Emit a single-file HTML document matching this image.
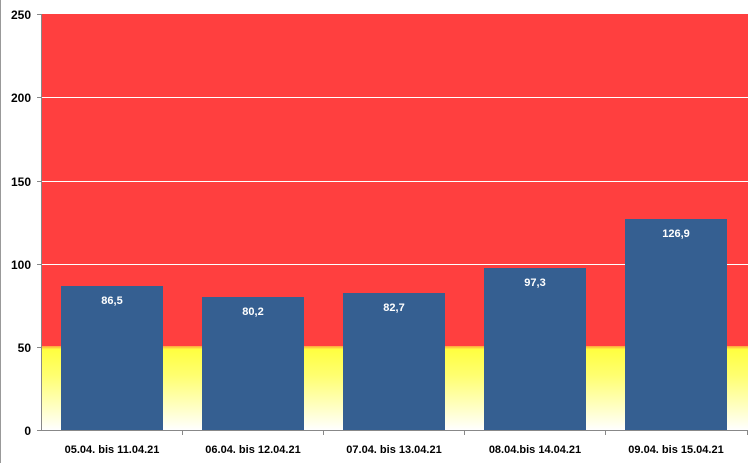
<!DOCTYPE html><html><head><style>body{margin:0;background:#fff}svg{display:block}text{font-family:"Liberation Sans",sans-serif;font-weight:bold}</style></head><body>
<svg width="754" height="463" xmlns="http://www.w3.org/2000/svg">
<defs><linearGradient id="y" x1="0" y1="0" x2="0" y2="1"><stop offset="0" stop-color="#ffa040"/><stop offset="0.04" stop-color="#ffff40"/><stop offset="0.35" stop-color="#ffff70"/><stop offset="1" stop-color="#ffffff"/></linearGradient></defs>
<rect x="0" y="0" width="1" height="463" fill="#999"/>
<rect x="42" y="14" width="706" height="333" fill="#ff3f3f"/>
<rect x="42" y="346" width="706" height="84" fill="url(#y)"/>
<g stroke="#fff" stroke-width="1"><line x1="42" x2="748" y1="264.5" y2="264.5"/><line x1="42" x2="748" y1="181.5" y2="181.5"/><line x1="42" x2="748" y1="97.5" y2="97.5"/></g>
<g stroke="#888" stroke-width="1"><line x1="41.5" y1="14" x2="41.5" y2="430"/><line x1="41" y1="430.5" x2="748" y2="430.5"/>
<line x1="37" x2="42" y1="14.5" y2="14.5"/><line x1="37" x2="42" y1="97.5" y2="97.5"/><line x1="37" x2="42" y1="181.5" y2="181.5"/><line x1="37" x2="42" y1="264.5" y2="264.5"/><line x1="37" x2="42" y1="347.5" y2="347.5"/><line x1="37" x2="42" y1="430.5" y2="430.5"/>
<line x1="182.5" x2="182.5" y1="430" y2="435"/><line x1="323.5" x2="323.5" y1="430" y2="435"/><line x1="464.5" x2="464.5" y1="430" y2="435"/><line x1="605.5" x2="605.5" y1="430" y2="435"/><line x1="747.5" x2="747.5" y1="430" y2="435"/></g>
<g fill="#355f91"><rect x="61" y="286" width="102" height="144"/><rect x="202" y="297" width="102" height="133"/><rect x="343" y="293" width="102" height="137"/><rect x="484" y="268" width="102" height="162"/><rect x="625" y="219" width="102" height="211"/></g>
<g font-size="11" fill="#fff" text-anchor="middle"><text x="112" y="304">86,5</text><text x="253" y="315">80,2</text><text x="394" y="311">82,7</text><text x="535" y="286">97,3</text><text x="676" y="237">126,9</text></g>
<g font-size="12" fill="#000" text-anchor="end"><text x="31" y="19">250</text><text x="31" y="102">200</text><text x="31" y="186">150</text><text x="31" y="269">100</text><text x="31" y="352">50</text><text x="31" y="435">0</text></g>
<g font-size="11" fill="#000" text-anchor="middle"><text x="112" y="453">05.04. bis 11.04.21</text><text x="253" y="453">06.04. bis 12.04.21</text><text x="394" y="453">07.04. bis 13.04.21</text><text x="535" y="453">08.04.bis 14.04.21</text><text x="676" y="453">09.04. bis 15.04.21</text></g>
</svg></body></html>
